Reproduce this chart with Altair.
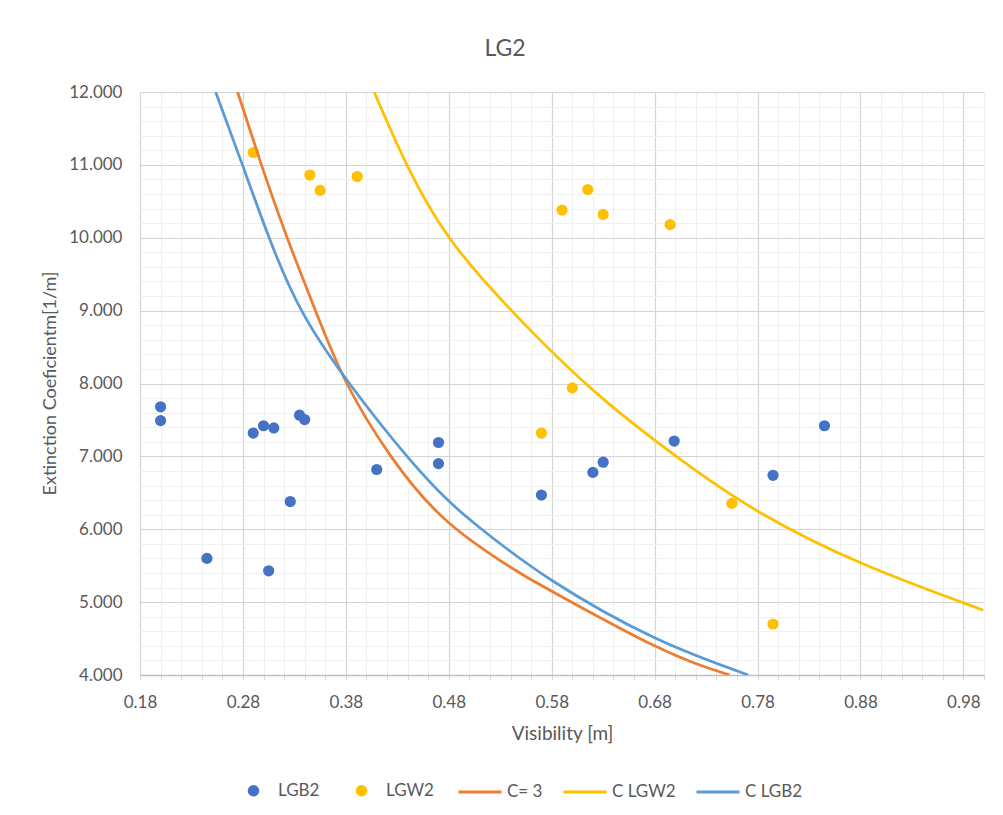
import altair as alt
import pandas as pd

# ---- data ----
lgb2_x = [0.200, 0.200, 0.245, 0.290, 0.300, 0.305, 0.310, 0.326, 0.335, 0.340,
          0.410, 0.470, 0.470, 0.570, 0.620, 0.630, 0.699, 0.795, 0.845]
lgb2_y = [7.68, 7.49, 5.60, 7.32, 7.42, 5.43, 7.39, 6.38, 7.565, 7.505,
          6.82, 7.19, 6.90, 6.47, 6.78, 6.92, 7.21, 6.74, 7.42]

lgw2_x = [0.290, 0.345, 0.355, 0.391, 0.570, 0.590, 0.600, 0.615, 0.630, 0.695, 0.755, 0.795]
lgw2_y = [11.17, 10.86, 10.65, 10.84, 7.32, 10.38, 7.94, 10.66, 10.32, 10.18, 6.355, 4.70]

c3_x = [0.2748, 0.298, 0.323, 0.3505, 0.381, 0.4239, 0.48, 0.5455, 0.58, 0.68, 0.7528]
c3_y = [12.0, 11.0, 10.0, 9.0, 8.0, 7.0, 6.09, 5.43, 5.15, 4.40, 4.0]

clgw2_x = [0.4075, 0.4393, 0.4805, 0.541, 0.6185, 0.701, 0.78, 0.88, 0.98, 1.0]
clgw2_y = [12.0, 11.0, 10.0, 9.0, 7.93, 7.0, 6.25, 5.54, 4.99, 4.88]

clgb2_x = [0.2535, 0.2795, 0.3055, 0.337, 0.3835, 0.4395, 0.479, 0.512, 0.58, 0.68, 0.771]
clgb2_y = [12.0, 11.0, 10.0, 9.0, 8.0, 7.0, 6.40, 6.0, 5.30, 4.51, 4.0]

point_series = ["LGB2", "LGW2"]
point_colors = ["#4472C4", "#FFC000"]
curve_series = ["C= 3", "C LGW2", "C LGB2"]
curve_colors = ["#ED7D31", "#FFC000", "#5B9BD5"]

x_ticks = [round(0.18 + 0.02 * i, 2) for i in range(42)]
y_ticks = [round(4 + 0.2 * i, 1) for i in range(41)]

points = pd.DataFrame({
    "Visibility": lgb2_x + lgw2_x,
    "K": lgb2_y + lgw2_y,
    "dataset": ["LGB2"] * len(lgb2_x) + ["LGW2"] * len(lgw2_x),
})
curves = pd.DataFrame({
    "Visibility": c3_x + clgw2_x + clgb2_x,
    "K": c3_y + clgw2_y + clgb2_y,
    "curve": ["C= 3"] * len(c3_x) + ["C LGW2"] * len(clgw2_x) + ["C LGB2"] * len(clgb2_x),
})

FONT = "Lato"
TXT = "#595959"

x_major = "abs((datum.value - 0.18) / 0.1 - round((datum.value - 0.18) / 0.1)) < 0.001"
y_major = "abs(datum.value - round(datum.value)) < 0.001"

x_axis = alt.Axis(
    values=x_ticks,
    labelExpr=f"({x_major}) ? format(datum.value, '.2f') : ''",
    gridColor={"condition": {"test": x_major, "value": "#d4d4d4"}, "value": "#f0f0f0"},
    gridWidth=1.2,
    domainColor="#bfbfbf", domainWidth=1.3,
    tickColor="#d9d9d9", tickSize=5,
    labelFont=FONT, labelFontSize=17, labelColor=TXT, labelPadding=14,
    labelOverlap=False, labelFlush=False,
    titleFont=FONT, titleFontSize=19, titleColor=TXT, titleFontWeight="normal",
    titleY=58, titleBaseline="middle",
)
y_axis = alt.Axis(
    values=y_ticks,
    labelExpr=f"({y_major}) ? format(datum.value, '.3f') : ''",
    gridColor={"condition": {"test": y_major, "value": "#d4d4d4"}, "value": "#f0f0f0"},
    gridWidth=1.2,
    domain=False, ticks=False, tickSize=0,
    labelFont=FONT, labelFontSize=17, labelColor=TXT, labelPadding=18,
    labelOverlap=False, labelFlush=False,
    titleFont=FONT, titleFontSize=18, titleColor=TXT, titleFontWeight="normal",
    titleAngle=270, titleX=-90, titleY=291, titleBaseline="middle", titleAlign="center",
)

xscale = alt.Scale(domain=[0.18, 1.0], nice=False, zero=False)
yscale = alt.Scale(domain=[4, 12], nice=False, zero=False)

x_enc = alt.X("Visibility:Q", scale=xscale, axis=x_axis, title="Visibility [m]")
y_enc = alt.Y("K:Q", scale=yscale, axis=y_axis, title="Extinction Coeficientm[1/m]")

pts = alt.Chart(points).mark_circle(size=125, opacity=1).encode(
    x=x_enc,
    y=y_enc,
    color=alt.Color(
        "dataset:N",
        scale=alt.Scale(domain=point_series, range=point_colors),
        legend=alt.Legend(
            orient="none", legendX=105, legendY=690, direction="horizontal",
            title=None, symbolType="circle", symbolSize=135, symbolStrokeWidth=0,
            labelOffset=16, columnPadding=33,
            labelFont=FONT, labelFontSize=17, labelColor=TXT,
        ),
    ),
)

lines = alt.Chart(curves).mark_line(strokeWidth=2.75, interpolate="natural", clip=True).encode(
    x=x_enc,
    y=y_enc,
    stroke=alt.Stroke(
        "curve:N",
        scale=alt.Scale(domain=curve_series, range=curve_colors),
        legend=alt.Legend(
            orient="none", legendX=317, legendY=677, direction="horizontal",
            title=None, symbolType="stroke", symbolSize=1849, symbolStrokeWidth=3,
            labelOffset=4, columnPadding=14,
            labelFont=FONT, labelFontSize=17, labelColor=TXT,
        ),
    ),
)

chart = alt.layer(pts, lines).properties(
    width=844,
    height=583,
    padding={"left": 132, "top": 84, "right": 10, "bottom": 131},
    autosize=alt.AutoSizeParams(type="none"),
    title=alt.Title(
        "LG2", font=FONT, fontSize=23, color=TXT, fontWeight="normal",
        anchor="middle", dx=-57, offset=4, baseline="alphabetic",
    ),
).configure_view(stroke="transparent").configure(background="white")

chart.save("out.html", embed_options={"renderer": "svg", "actions": False})
